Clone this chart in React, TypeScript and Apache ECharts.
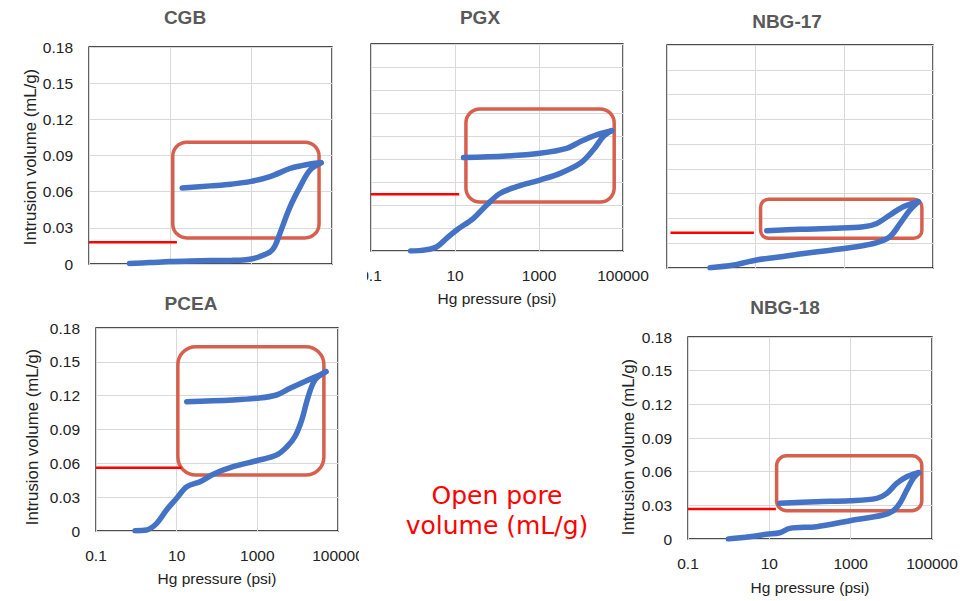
import React, { useEffect, useRef } from "react";
import * as echarts from "echarts";

// ---------- data ----------
const panelNames = ["CGB", "PGX", "NBG-17", "PCEA", "NBG-18"];

const xTickLabels = ["0.1", "10", "1000", "100000"];
const yTickLabels = ["0", "0.03", "0.06", "0.09", "0.12", "0.15", "0.18"];

// CGB
const cgbInP = [1, 3.2, 10, 32, 100, 320, 540, 1000, 1600, 2950, 3900, 5250, 9100, 16200, 28800, 53700];
const cgbInV = [0.0005, 0.0012, 0.002, 0.0025, 0.0028, 0.003, 0.0032, 0.0042, 0.006, 0.01, 0.015, 0.026, 0.047, 0.064, 0.078, 0.084];
const cgbExP = [53700, 28800, 16200, 9100, 2950, 1000, 320, 100, 20];
const cgbExV = [0.084, 0.083, 0.0813, 0.0792, 0.0725, 0.0685, 0.0662, 0.0648, 0.063];

// PGX
const pgxInP = [0.88, 2, 3.7, 6.3, 11, 27.5, 57, 117, 295, 1050, 3160, 9550, 19500, 33900, 53700];
const pgxInV = [0, 0.001, 0.0037, 0.011, 0.0183, 0.0284, 0.04, 0.05, 0.0559, 0.0617, 0.0675, 0.0762, 0.0878, 0.0994, 0.1046];
const pgxExP = [53700, 23400, 9550, 4570, 1050, 170, 16];
const pgxExV = [0.1046, 0.1009, 0.095, 0.0893, 0.085, 0.0826, 0.0812];

// NBG-17
const nbg17InP = [0.93, 3.2, 10.5, 30, 100, 400, 1900, 5400, 10700, 18200, 30200, 46800];
const nbg17InV = [0.0002, 0.0024, 0.0065, 0.0086, 0.0113, 0.014, 0.0172, 0.0204, 0.0253, 0.036, 0.0468, 0.0535];
const nbg17ExP = [46800, 21400, 10700, 5400, 2700, 560, 100, 17.8];
const nbg17ExV = [0.0535, 0.0495, 0.0428, 0.036, 0.0333, 0.032, 0.0312, 0.0301];

// PCEA
const pceaInP = [0.93, 1.8, 3.2, 5.6, 10, 17.8, 38, 81, 250, 955, 3000, 5400, 8500, 12600, 18200, 26900, 50100];
const pceaInV = [0.0003, 0.0009, 0.0068, 0.0186, 0.029, 0.0393, 0.0437, 0.0503, 0.057, 0.0623, 0.0674, 0.0747, 0.0836, 0.0984, 0.119, 0.1339, 0.1413];
const pceaExP = [50100, 35500, 16600, 6460, 3000, 955, 250, 17.8];
const pceaExV = [0.1413, 0.1383, 0.1333, 0.1265, 0.1206, 0.1177, 0.1162, 0.1147];

// NBG-18
const nbg18InP = [0.98, 3.3, 8.5, 18, 32, 145, 955, 6300, 11200, 16200, 24000, 34700, 46800];
const nbg18InV = [0, 0.002, 0.0042, 0.0056, 0.0095, 0.011, 0.0163, 0.0214, 0.0252, 0.0318, 0.0437, 0.0541, 0.0591];
const nbg18ExP = [46800, 24000, 13500, 7760, 4370, 955, 145, 18];
const nbg18ExV = [0.0591, 0.0555, 0.0496, 0.0407, 0.0362, 0.0341, 0.0333, 0.0318];

// open pore volume markers (red lines) and highlighted boxes
const openPoreVolume = [0.018, 0.0493, 0.0285, 0.0561, 0.0267];
const openPoreLineStartP = [0.1, 0.1, 0.12, 0.1, 0.1];
const openPoreLineEndP = [14.8, 12.6, 9.1, 13.2, 14.5];
const boxMinP = [11.7, 18.2, 12.9, 10.7, 15.1];
const boxMaxP = [47900, 61700, 56200, 44700, 56200];
const boxMinV = [0.0216, 0.0426, 0.024, 0.0497, 0.0252];
const boxMaxV = [0.101, 0.1235, 0.0555, 0.1634, 0.0742];

const curves = [
  { inP: cgbInP, inV: cgbInV, exP: cgbExP, exV: cgbExV },
  { inP: pgxInP, inV: pgxInV, exP: pgxExP, exV: pgxExV },
  { inP: nbg17InP, inV: nbg17InV, exP: nbg17ExP, exV: nbg17ExV },
  { inP: pceaInP, inV: pceaInV, exP: pceaExP, exV: pceaExV },
  { inP: nbg18InP, inV: nbg18InV, exP: nbg18ExP, exV: nbg18ExV },
];

// ---------- layout ----------
const layouts = [
  { left: 89, top: 47, width: 243, height: 217, yInterval: 0.03, showY: true, showX: false, title: [185, 17], yName: [30, 157], xName: null, r: 14 },
  { left: 371, top: 44, width: 252, height: 207, yInterval: 0.02, showY: false, showX: true, title: [480, 17], yName: null, xName: [497, 298], r: 14 },
  { left: 667, top: 45, width: 266, height: 223, yInterval: 0.02, showY: false, showX: false, title: [787, 21], yName: null, xName: null, r: 8 },
  { left: 96, top: 328, width: 242, height: 203, yInterval: 0.03, showY: true, showX: true, title: [191, 303], yName: [32, 437], xName: [217, 578], r: 18 },
  { left: 688, top: 337, width: 244, height: 202, yInterval: 0.03, showY: true, showX: true, title: [785, 307], yName: [628, 447], xName: [810, 587], r: 10 },
];

const FONT = "'Liberation Sans', Arial, sans-serif";
const BLUE = "#4472C4";
const BOX = "#D6604D";

const pairs = (ps: number[], vs: number[]) => ps.map((p, i) => [Math.log10(p), vs[i]]);

export default function App() {
  const ref = useRef<HTMLDivElement>(null);

  useEffect(() => {
    if (!ref.current) return;
    const chart = echarts.init(ref.current, undefined, { renderer: "svg" });

    const grids: any[] = [];
    const xAxes: any[] = [];
    const yAxes: any[] = [];
    const series: any[] = [];
    const graphics: any[] = [];

    layouts.forEach((L, i) => {
      grids.push({
        left: L.left, top: L.top, width: L.width, height: L.height,
        show: true, borderColor: "#111", borderWidth: 1.3, backgroundColor: "transparent",
      });
      xAxes.push({
        type: "value", gridIndex: i, min: -1, max: 5, interval: 2,
        axisLine: { show: false }, axisTick: { show: false },
        splitLine: { show: true, lineStyle: { color: "#d9d9d9", width: 1 } },
        axisLabel: {
          show: L.showX, margin: 16, color: "#222", fontSize: 15.5, fontFamily: FONT,
          formatter: (v: number) => xTickLabels[Math.round((v + 1) / 2)] ?? "",
        },
      });
      yAxes.push({
        type: "value", gridIndex: i, min: 0, max: 0.18, interval: L.yInterval,
        axisLine: { show: false }, axisTick: { show: false },
        splitLine: { show: true, lineStyle: { color: "#d9d9d9", width: 1 } },
        axisLabel: {
          show: L.showY, margin: 16, color: "#222", fontSize: 15.5, fontFamily: FONT,
          formatter: (v: number) => yTickLabels[Math.round(v / 0.03)] ?? "",
        },
      });

      const c = curves[i];
      // highlighted box
      series.push({
        type: "custom", xAxisIndex: i, yAxisIndex: i, z: 1, silent: true,
        data: [[Math.log10(boxMinP[i]), boxMinV[i], Math.log10(boxMaxP[i]), boxMaxV[i]]],
        encode: { x: [0, 2], y: [1, 3] },
        renderItem: (_p: any, api: any) => {
          const a = api.coord([api.value(0), api.value(3)]);
          const b = api.coord([api.value(2), api.value(1)]);
          return {
            type: "rect",
            shape: { x: a[0], y: a[1], width: b[0] - a[0], height: b[1] - a[1], r: L.r },
            style: { fill: "none", stroke: BOX, lineWidth: 3.5 },
          };
        },
      });
      // open pore volume line
      series.push({
        type: "line", xAxisIndex: i, yAxisIndex: i, z: 2, showSymbol: false, silent: true,
        data: [[Math.log10(openPoreLineStartP[i]), openPoreVolume[i]], [Math.log10(openPoreLineEndP[i]), openPoreVolume[i]]],
        lineStyle: { color: "#FF0000", width: 2.5 },
      });
      // intrusion & extrusion
      [pairs(c.inP, c.inV), pairs(c.exP, c.exV)].forEach((d) => {
        series.push({
          type: "line", xAxisIndex: i, yAxisIndex: i, z: 3, showSymbol: false,
          smooth: 0.35, silent: true,
          data: d,
          lineStyle: { color: BLUE, width: 5.5, cap: "round", join: "round" },
        });
      });

      graphics.push({
        type: "text", x: L.title[0], y: L.title[1], z: 50,
        style: { text: panelNames[i], fill: "#595959", font: `bold 19px ${FONT}`, align: "center", verticalAlign: "middle", textAlign: "center", textVerticalAlign: "middle" },
      });
      if (L.yName) {
        graphics.push({
          type: "text", x: L.yName[0], y: L.yName[1], rotation: Math.PI / 2, z: 50,
          style: { text: "Intrusion volume (mL/g)", fill: "#222", font: `16.8px ${FONT}`, align: "center", verticalAlign: "middle", textAlign: "center", textVerticalAlign: "middle" },
        });
      }
      if (L.xName) {
        graphics.push({
          type: "text", x: L.xName[0], y: L.xName[1], z: 50,
          style: { text: "Hg pressure (psi)", fill: "#222", font: `15.5px ${FONT}`, align: "center", verticalAlign: "middle", textAlign: "center", textVerticalAlign: "middle" },
        });
      }
    });

    // cropped label edges like in the composed figure
    graphics.push({ type: "rect", z: 100, shape: { x: 340, y: 262, width: 27, height: 28 }, style: { fill: "#fff" } });
    graphics.push({ type: "rect", z: 100, shape: { x: 359, y: 543, width: 20, height: 26 }, style: { fill: "#fff" } });

    graphics.push({
      type: "text", x: 497, y: 510, z: 50,
      style: {
        text: "Open pore\nvolume (mL/g)", fill: "#FF0000", font: `25px 'DejaVu Sans', sans-serif`, lineHeight: 30,
        align: "center", verticalAlign: "middle", textAlign: "center", textVerticalAlign: "middle",
      },
    });

    chart.setOption({
      animation: false,
      backgroundColor: "#fff",
      grid: grids,
      xAxis: xAxes,
      yAxis: yAxes,
      series,
      graphic: { elements: graphics },
    });

    return () => chart.dispose();
  }, []);

  return <div ref={ref} style={{ position: "absolute", left: 0, top: 0, width: 972, height: 601 }} />;
}
